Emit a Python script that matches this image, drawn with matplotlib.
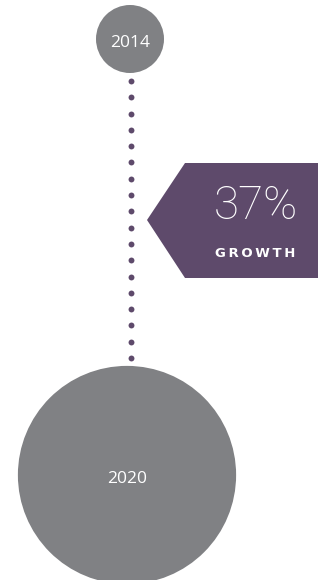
import numpy as np
import matplotlib
matplotlib.use("Agg")
import matplotlib.pyplot as plt
from matplotlib.patches import Circle, Polygon

# data
years = ["2014", "2020"]
rel_size = [1.0, 10.3]   # relative bubble area
growth_pct = 37
growth_label = "GROWTH"

GRAY = "#808184"
PURPLE = "#5e4a6b"

fig = plt.figure(figsize=(3.18, 5.80), dpi=100)
ax = fig.add_axes([0, 0, 1, 1])
ax.set_xlim(0, 318)
ax.set_ylim(580, 0)
ax.set_aspect("equal")
ax.axis("off")

base_r = 34
centers = [(130, 39), (127, 475)]
radii = [base_r * np.sqrt(v) for v in rel_size]

# dotted connector between the two bubbles
dot_y = np.linspace(81, 358, 18)
ax.scatter(np.full_like(dot_y, 130.5), dot_y, s=18, color=PURPLE, linewidths=0, zorder=2)

for (cx, cy), r, yr in zip(centers, radii, years):
    ax.add_patch(Circle((cx, cy), r, color=GRAY, linewidth=0, zorder=3))
    ax.text(cx, cy + 4, yr, color="white", fontsize=12.5, family="Open Sans",
            ha="center", va="center", zorder=4)

# growth badge
ax.add_patch(Polygon([(147, 220), (185, 163), (318, 163), (318, 278), (185, 278)],
                     closed=True, color=PURPLE, linewidth=0, zorder=3))
ax.text(256, 219, f"{growth_pct}%", color="white", fontsize=33, family="Roboto",
        weight="light", ha="center", va="baseline", zorder=4)
ax.text(255, 257, "\u2009".join(growth_label), color="white", fontsize=9.5,
        family="DejaVu Sans", weight="bold", ha="center", va="baseline", zorder=4)

fig.savefig("out.png", dpi=100, facecolor="white")
